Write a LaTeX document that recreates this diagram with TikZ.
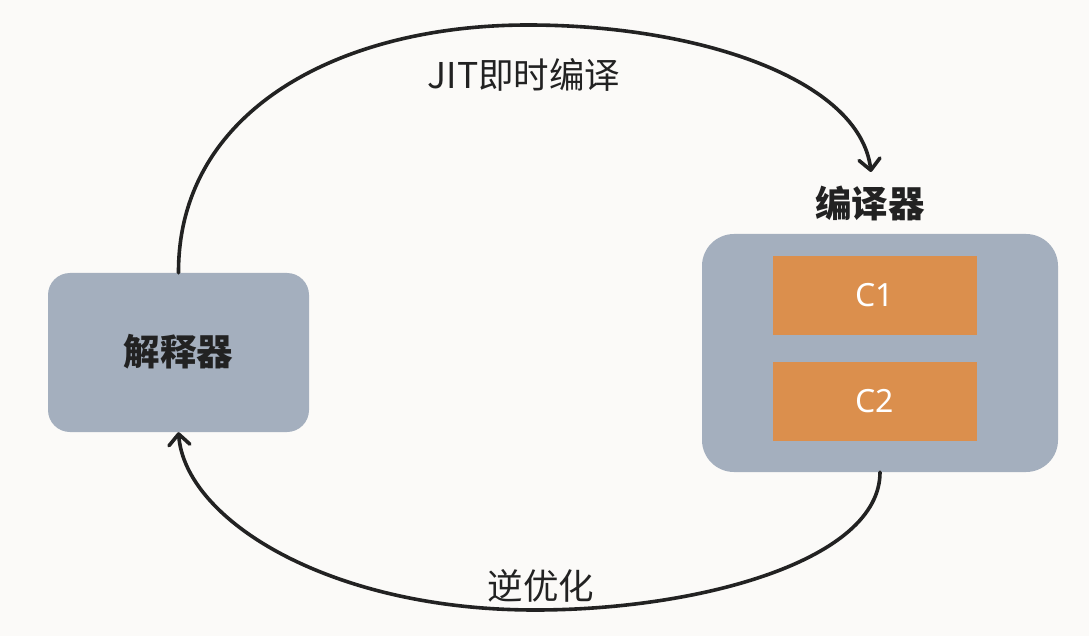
\documentclass[tikz,border=0pt]{standalone}
\usepackage{fontspec}
\setmainfont{Noto Sans CJK SC}
\newfontfamily\latinsans{Noto Sans}
\usetikzlibrary{arrows.meta}
\definecolor{bgc}{HTML}{FBFAF8}
\definecolor{boxc}{HTML}{A4AFBE}
\definecolor{orc}{HTML}{DB8F4D}
\definecolor{inkc}{HTML}{222222}
\begin{document}
\begin{tikzpicture}[x=1pt,y=-1pt,
  bigbox/.style={fill=boxc,rounded corners=#1,inner sep=0pt},
  cbox/.style={fill=orc,minimum width=204pt,minimum height=79pt,inner sep=0pt,text=white,font=\latinsans\fontsize{32}{38}\selectfont},
  lbl/.style={text=inkc,font=\fontsize{35.5}{42}\selectfont,inner sep=0pt},
  blbl/.style={text=inkc,font=\fontsize{36.5}{42}\selectfont\bfseries,inner sep=0pt},
  conn/.style={draw=inkc,line width=3.6pt,line cap=round,-{Straight Barb[round,length=11pt,width=21pt]}}]
\fill[bgc] (0,0) rectangle (1089,636);
\useasboundingbox (0,0) rectangle (1089,636);
\node[bigbox=22pt,minimum width=261pt,minimum height=159pt] (interp) at (178.5,352.5) {};
\node[blbl] (interpl) at (178.5,352) {解释器};
\node[bigbox=32pt,minimum width=356pt,minimum height=238pt] (comp) at (880,353) {};
\node[cbox] (c1) at (875,295.5) {C1};
\node[cbox] (c2) at (875,401.5) {C2};
\node[blbl] (compl) at (870,203) {编译器};
\node[lbl] (jit) at (524,75) {JIT即时编译};
\node[lbl] (deopt) at (541,586) {逆优化};
\coordinate (jitend) at (871,172);
\draw[conn] (interp.north) .. controls (178,110) and (340,25) .. (528,25)
  .. controls (700,25) and (860,80) .. (jitend);
\draw[conn] (comp.south) .. controls (880,560) and (700,610) .. (535,610)
  .. controls (330,610) and (185,520) .. (interp.south);
\end{tikzpicture}
\end{document}
